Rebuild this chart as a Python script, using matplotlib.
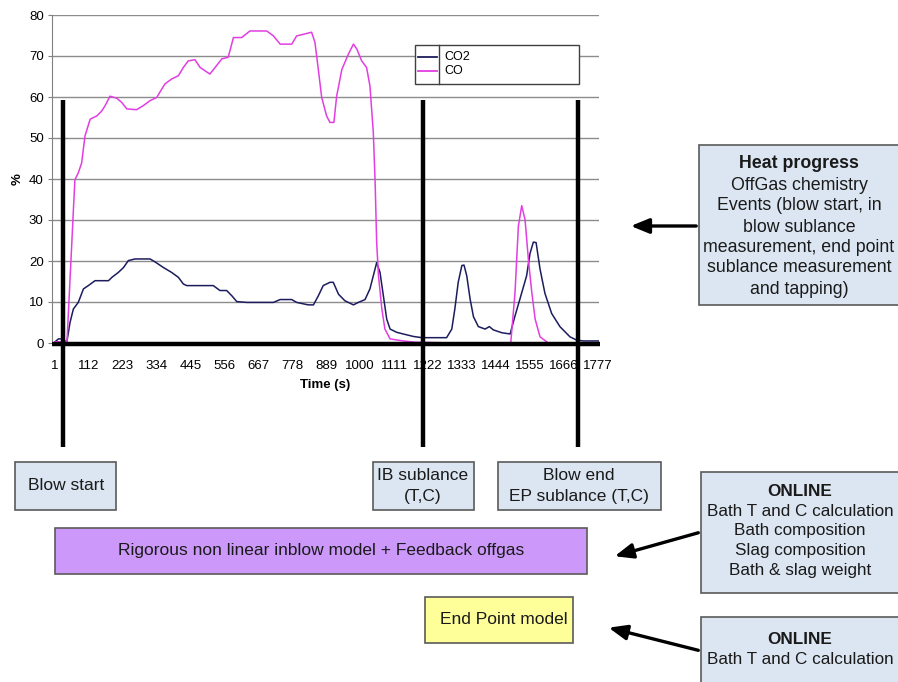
import matplotlib
matplotlib.use('Agg')
import matplotlib.pyplot as plt
from matplotlib.patches import Rectangle

plt.rcParams['font.family'] = ['Liberation Sans', 'DejaVu Sans']

# offgas readings (time in s, percent)
co_time = [1, 40, 56, 61, 66, 77, 88, 99, 116, 138, 154, 165, 181, 203, 219, 236, 268, 290,
           312, 334, 350, 361, 383, 405, 421, 437, 459, 476, 492, 508, 525, 547, 568, 585,
           612, 639, 694, 716, 738, 776, 792, 820, 841, 852, 863, 874, 890, 901, 914, 923,
           940, 961, 978, 989, 1005, 1021, 1032, 1043, 1049, 1054, 1060, 1071, 1081, 1098,
           1141, 1180, 1300, 1493, 1507, 1518, 1529, 1540, 1551, 1562, 1573, 1589, 1616]
co_pct = [0.3, 0.3, 24.6, 32.4, 39.8, 41.5, 43.9, 50.5, 54.6, 55.4, 56.6, 57.9, 60.2, 59.7,
          58.7, 57.1, 56.9, 57.9, 59.1, 59.9, 61.9, 63.2, 64.4, 65.2, 67.2, 68.8, 69.1, 67.2,
          66.4, 65.6, 67.2, 69.3, 69.7, 74.5, 74.5, 76.1, 76.1, 74.9, 72.9, 72.9, 74.9, 75.4,
          75.8, 73.3, 66.7, 59.9, 55.4, 53.8, 53.8, 60.2, 66.7, 70.4, 72.9, 71.7, 68.8, 67.2,
          62.7, 51.4, 39.2, 24.6, 16.4, 8.3, 3.4, 1.0, 0.5, 0.2, 0.0, 0.0, 12.3, 28.5, 33.5,
          30.0, 20.2, 12.3, 5.8, 1.5, 0.0]

co2_time = [1, 12, 28, 39, 50, 61, 77, 94, 110, 132, 176, 187, 208, 225, 241, 263, 312, 328,
            356, 383, 405, 421, 432, 519, 541, 563, 580, 596, 629, 716, 738, 776, 792, 830,
            847, 863, 879, 901, 912, 929, 950, 978, 994, 1016, 1032, 1054, 1065, 1076, 1087,
            1098, 1120, 1141, 1174, 1202, 1283, 1300, 1310, 1321, 1333, 1340, 1349, 1360,
            1371, 1387, 1409, 1423, 1436, 1464, 1491, 1507, 1523, 1545, 1556, 1567, 1576,
            1589, 1605, 1627, 1654, 1687, 1709, 1731, 1780]
co2_pct = [0.3, 1.0, 1.0, 0.0, 5.0, 8.3, 9.9, 13.2, 14.0, 15.2, 15.2, 16.0, 17.2, 18.4, 20.1,
           20.5, 20.5, 19.8, 18.4, 17.2, 16.0, 14.4, 14.0, 14.0, 12.8, 12.8, 11.5, 10.1, 9.9,
           9.9, 10.6, 10.6, 9.9, 9.3, 9.3, 11.5, 14.0, 14.8, 14.8, 11.9, 10.3, 9.3, 9.9, 10.6,
           13.2, 19.6, 17.2, 11.5, 5.8, 3.4, 2.6, 2.2, 1.6, 1.3, 1.3, 3.4, 8.3, 14.8, 18.9,
           19.0, 16.4, 10.7, 6.4, 4.0, 3.4, 4.0, 3.2, 2.5, 2.2, 6.6, 10.7, 16.4, 21.8, 24.6,
           24.5, 18.0, 12.1, 7.2, 4.0, 1.5, 0.7, 0.5, 0.5]

x_ticks = list(range(1, 1778, 111))
y_ticks = [0, 10, 20, 30, 40, 50, 60, 70, 80]

co2_color = '#1c1c5e'
co_color = '#e23ee2'

fig = plt.figure(figsize=(8.98, 6.82), dpi=100)
ax = fig.add_axes([52 / 898, 1 - 343 / 682, 547 / 898, 328 / 682])

ax.plot(co2_time, co2_pct, color=co2_color, lw=1.1)
ax.plot(co_time, co_pct, color=co_color, lw=1.1)

ax.set_xlim(-9, 1782)
ax.set_ylim(0, 80)
ax.set_xticks(x_ticks)
ax.set_yticks(y_ticks)
ax.tick_params(labelsize=9.5, length=3, color='#808080', pad=3)
ax.tick_params(axis='x', length=0, pad=12)
ax.yaxis.grid(True, color='#8c8c8c', lw=1)
ax.set_axisbelow(True)
for s in ['top', 'right', 'bottom']:
    ax.spines[s].set_visible(False)
ax.spines['left'].set_color('#808080')
ax.set_xlabel('Time (s)', fontsize=9.5, fontweight='bold', labelpad=5)
ax.set_ylabel('%', fontsize=9.5, fontweight='bold', labelpad=4)

# overlay in pixel coordinates for the slide annotations
ov = fig.add_axes([0, 0, 1, 1], zorder=5)
ov.set_xlim(0, 898)
ov.set_ylim(682, 0)
ov.axis('off')
ov.patch.set_alpha(0)

# legend
ov.add_patch(Rectangle((415, 45), 164, 39, facecolor='white', edgecolor='#404040', lw=1))
ov.plot([439, 439], [45, 84], color='#404040', lw=1)
ov.plot([418, 437], [57, 57], color=co2_color, lw=1.3)
ov.plot([418, 437], [71, 71], color=co_color, lw=1.3)
ov.text(444, 57, 'CO2', fontsize=9, va='center')
ov.text(444, 71, 'CO', fontsize=9, va='center')

# thick event markers
ov.plot([52, 600], [344, 344], color='black', lw=3.2, solid_capstyle='butt')
for xv in [63, 423, 578]:
    ov.plot([xv, xv], [100, 447], color='black', lw=3.2, solid_capstyle='butt')


def box(x0, y0, x1, y1, fill, lines, ys, cx, size=12.5, bold_first=False):
    ov.add_patch(Rectangle((x0, y0), x1 - x0, y1 - y0, facecolor=fill,
                           edgecolor='#5a5a5a', lw=1.2))
    for i, (t, yy) in enumerate(zip(lines, ys)):
        w = 'bold' if (bold_first and i == 0) else 'normal'
        ov.text(cx, yy, t, fontsize=size, fontweight=w, ha='center', va='center',
                color='#1a1a1a')


blue = '#dce6f2'
box(699, 145, 905, 305, blue,
    ['Heat progress', 'OffGas chemistry', 'Events (blow start, in', 'blow sublance',
     'measurement, end point', 'sublance measurement', 'and tapping)'],
    [164, 185, 206, 227, 248, 268, 289], 799, size=12.8, bold_first=True)
box(15, 462, 116, 510, blue, ['Blow start'], [486], 66)
box(373, 462, 474, 510, blue, ['IB sublance', '(T,C)'], [476, 497], 423)
box(498, 462, 661, 510, blue, ['Blow end', 'EP sublance (T,C)'], [476, 497], 579)
box(55, 528, 587, 574, '#cc99fa', ['Rigorous non linear inblow model + Feedback offgas'],
    [551], 321, size=12.5)
box(425, 597, 573, 643, '#ffff99', ['End Point model'], [620], 504)
box(701, 472, 905, 593, blue,
    ['ONLINE', 'Bath T and C calculation', 'Bath composition', 'Slag composition',
     'Bath & slag weight'],
    [492, 511, 531, 551, 571], 800, size=12.3, bold_first=True)
box(701, 617, 905, 700, blue, ['ONLINE', 'Bath T and C calculation'], [639, 659], 800,
    size=12.3, bold_first=True)

arrows = [((699, 226), (628, 226)), ((701, 532), (612, 557)), ((701, 651), (606, 627))]
for start, end in arrows:
    ov.annotate('', xy=end, xytext=start,
                arrowprops=dict(arrowstyle='-|>,head_length=1.1,head_width=0.45',
                                color='black', lw=2.4))

fig.savefig('out.png', dpi=100)
